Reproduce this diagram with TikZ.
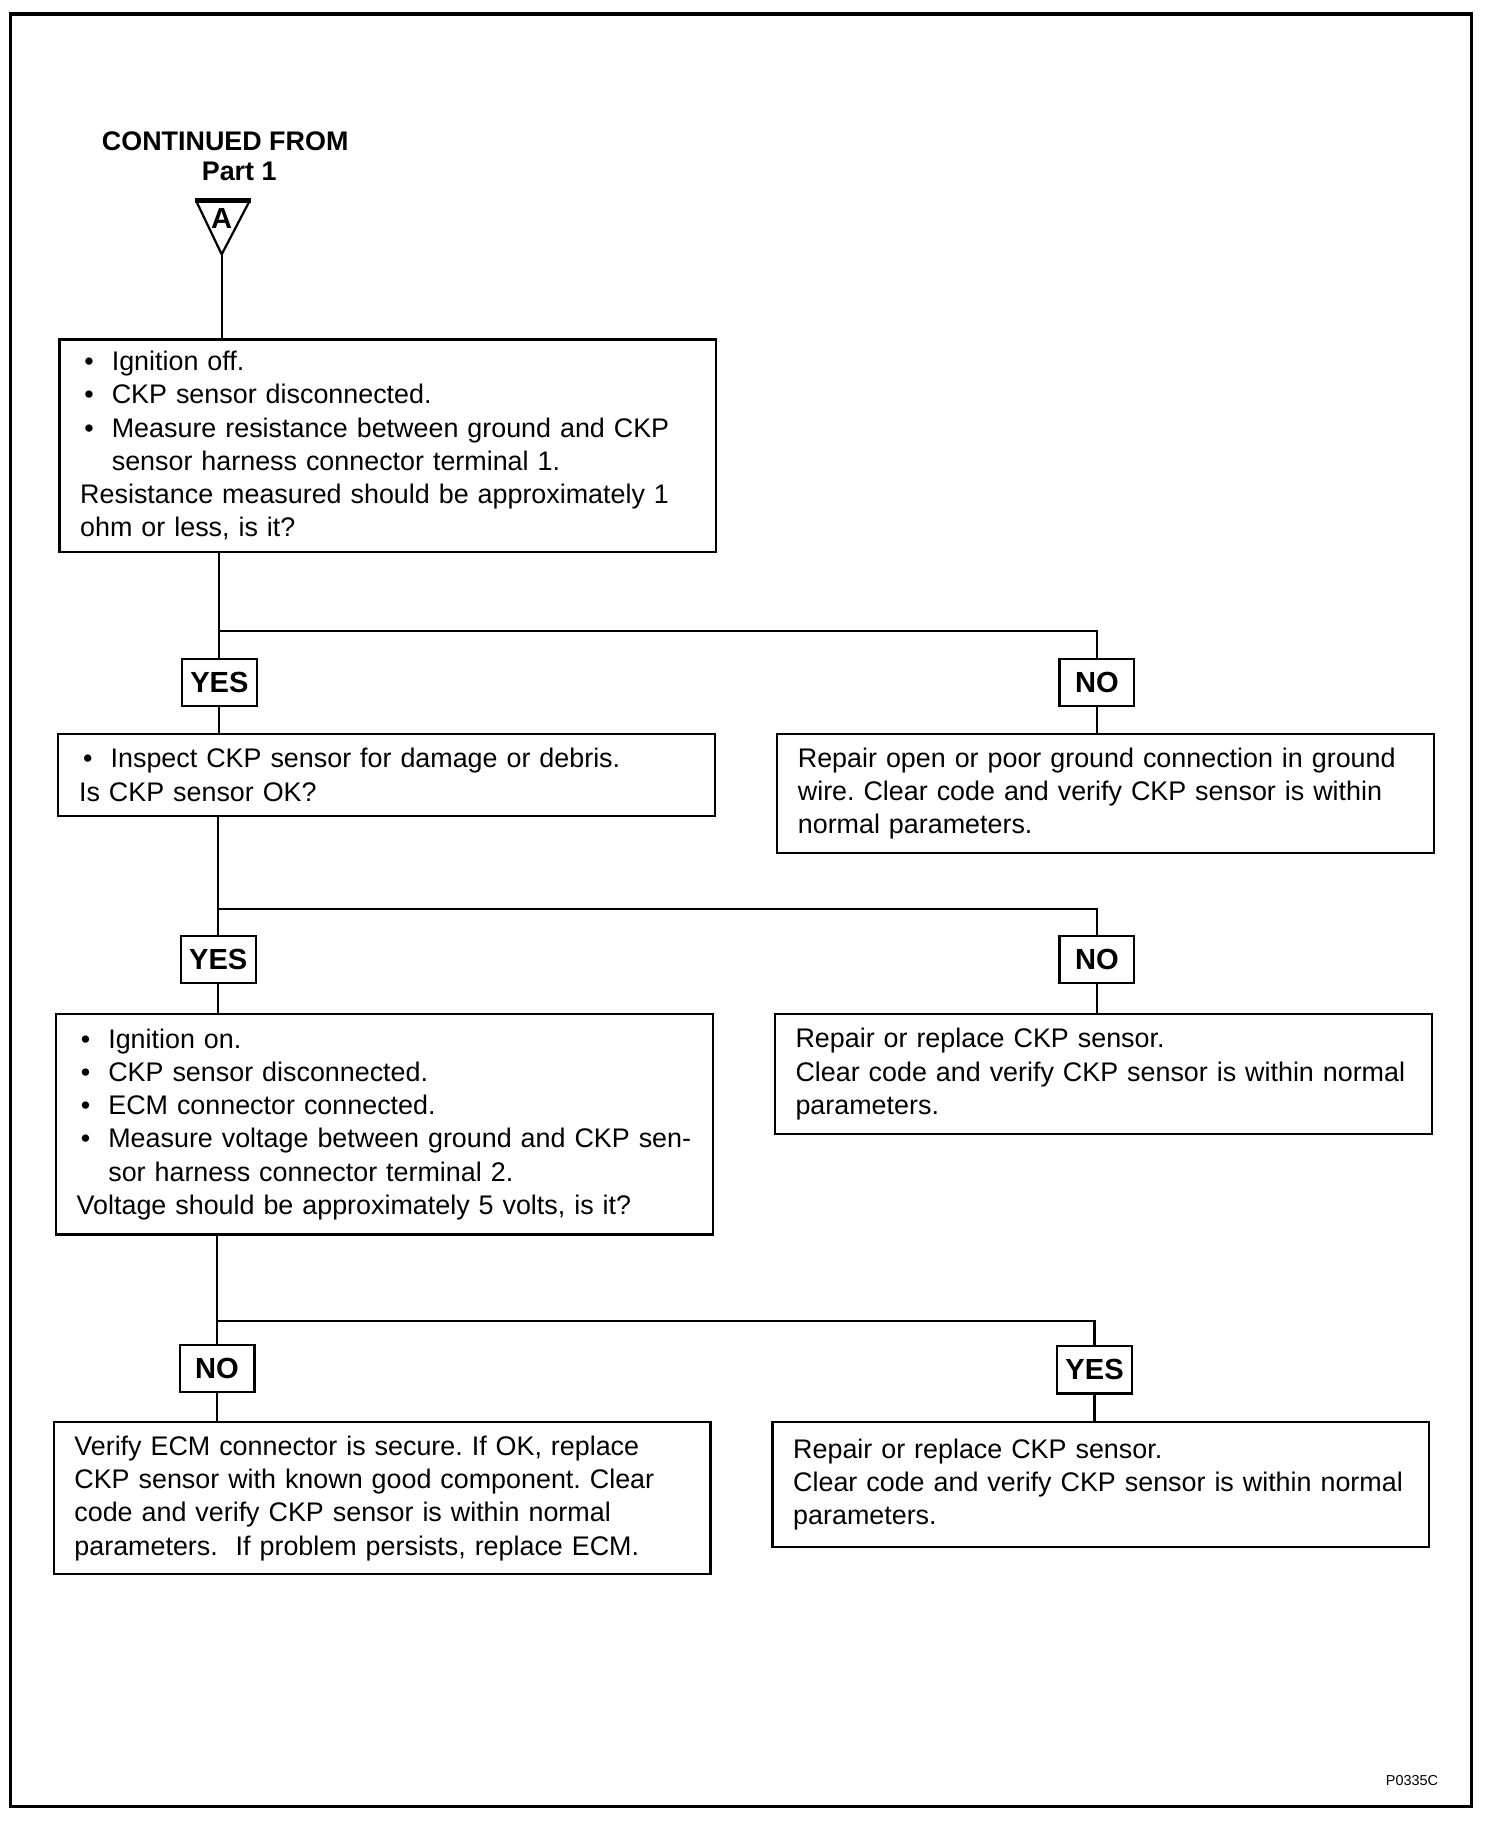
\documentclass[tikz,border=0pt]{standalone}
\usepackage{fontspec}
\setmainfont{Liberation Sans}
\usetikzlibrary{positioning}
\frenchspacing
\newcommand{\bul}{\makebox[11.4pt][l]{\hspace{1.5pt}\textbullet}}
\newcommand{\ind}{\hspace*{11.4pt}}

\begin{document}
\begin{tikzpicture}[x=0.421pt, y=-0.421pt,
		stepbox/.style={draw, line width=0.8pt, anchor=north west, text width=222pt,
			inner xsep=7.5pt, align=left, font=\fontsize{9.7}{12}\selectfont},
		answer/.style={draw, line width=0.8pt, minimum width=27pt, minimum height=17pt,
			inner sep=1pt, font=\fontsize{10.5}{12}\bfseries\selectfont},
		wire/.style={line width=0.8pt}]
				\useasboundingbox (0,0) rectangle (1289,1570);
				\draw[line width=1.1pt] (9,12) rectangle (1261,1548);
				\node[font=\fontsize{9.7}{12}\bfseries\selectfont] (cont) at (193,121) {CONTINUED FROM};
				\node[font=\fontsize{9.7}{12}\bfseries\selectfont] (part) at (205,147) {Part 1};
				\draw[wire] (168,172) -- (190,218) -- (214,172);
				\draw[line width=1.6pt] (167,172) -- (215,172);
				\node[font=\fontsize{10.5}{12}\bfseries\selectfont] (mark) at (190,187) {A};
				\coordinate (tip) at (190,218);
				\node[stepbox, minimum height=76.6pt] (chk1) at (50,290) {
					\bul Ignition off.\\
					\bul CKP sensor disconnected.\\
					\bul Measure resistance between ground and CKP\\
					\ind sensor harness connector terminal 1.\\
					Resistance measured should be approximately 1\\
					ohm or less, is it?};
				\node[stepbox, minimum height=29.5pt] (insp) at (49,628) {
					\bul Inspect CKP sensor for damage or debris.\\
					Is CKP sensor OK?};
				\node[stepbox, minimum height=42.9pt] (gndfix) at (665,628) {
					Repair open or poor ground connection in ground\\
					wire. Clear code and verify CKP sensor is within\\
					normal parameters.};
				\node[stepbox, minimum height=79.6pt] (volt) at (47,868) {
					\bul Ignition on.\\
					\bul CKP sensor disconnected.\\
					\bul ECM connector connected.\\
					\bul Measure voltage between ground and CKP sen-\\
					\ind sor harness connector terminal 2.\\
					Voltage should be approximately 5 volts, is it?};
				\node[stepbox, minimum height=43.4pt] (ckpfix) at (663,868) {
					Repair or replace CKP sensor.\\
					Clear code and verify CKP sensor is within normal\\
					parameters.};
				\node[stepbox, minimum height=54.7pt] (ecm) at (45,1218) {
					Verify ECM connector is secure. If OK, replace\\
					CKP sensor with known good component. Clear\\
					code and verify CKP sensor is within normal\\
					parameters.\ \ If problem persists, replace ECM.};
				\node[stepbox, minimum height=45pt] (ckpnew) at (661,1218) {
					Repair or replace CKP sensor.\\
					Clear code and verify CKP sensor is within normal\\
					parameters.};
				\node[answer] (yes1) at (188,585) {YES};
				\node[answer] (no1) at (940,585) {NO};
				\node[answer] (yes2) at (187,822) {YES};
				\node[answer] (no2) at (940,822) {NO};
				\node[answer] (no3) at (186,1173) {NO};
				\node[answer] (yes3) at (938,1174) {YES};
				\draw[wire] (tip) -- (chk1.north -| tip);
				\foreach \src/\lft/\rgt/\lbox/\rbox/\ylev in {chk1/yes1/no1/insp/gndfix/541,
						insp/yes2/no2/volt/ckpfix/779, volt/no3/yes3/ecm/ckpnew/1132} {
					\draw[wire] (\src.south -| \lft) -- (\lft.north);
					\draw[wire] (\lft |- 0,\ylev) -| (\rgt.north);
					\draw[wire] (\lft.south) -- (\lbox.north -| \lft);
					\draw[wire] (\rgt.south) -- (\rbox.north -| \rgt);
				}
				\node[font=\fontsize{5.2}{6}\selectfont] (code) at (1210,1526) {P0335C};
			\end{tikzpicture}
\end{document}
